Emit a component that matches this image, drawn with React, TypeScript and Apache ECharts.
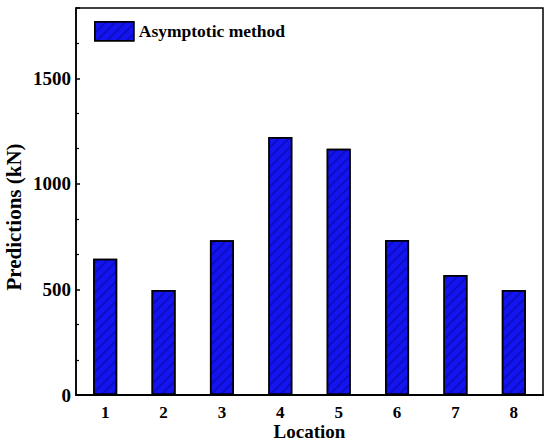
import React, { useEffect, useRef } from "react";
import * as echarts from "echarts";

const categories = ["1", "2", "3", "4", "5", "6", "7", "8"];
const predictions = [646, 498, 733, 1222, 1167, 734, 569, 497];
const seriesName = "Asymptotic method";
const yTicks = [0, 500, 1000, 1500];
const yName = "Predictions (kN)";

const FONT = "'Liberation Serif', 'Times New Roman', serif";

export default function App() {
  const ref = useRef<HTMLDivElement>(null);
  useEffect(() => {
    if (!ref.current) return;
    const chart = echarts.init(ref.current, null, { renderer: "svg" });
    chart.setOption({
      animation: false,
      backgroundColor: "#fff",
      grid: {
        left: 76,
        right: 7,
        top: 8,
        bottom: 51,
        outerBoundsMode: "none",
        containLabel: false,
        show: true,
        borderColor: "#000",
        borderWidth: 1.5,
      },
      legend: {
        left: 94,
        top: 21,
        padding: 0,
        icon: "rect",
        itemWidth: 39,
        itemHeight: 19,
        itemGap: 6,
        data: [seriesName],
        itemStyle: { borderColor: "#000", borderWidth: 1.5 },
        textStyle: { fontFamily: FONT, fontWeight: "bold", fontSize: 17.5, color: "#000" },
      },
      graphic: [
        {
          type: "text",
          x: 14,
          y: 217,
          rotation: Math.PI / 2,
          style: {
            text: yName,
            fontFamily: FONT,
            fontWeight: "bold",
            fontSize: 21,
            fill: "#000",
            align: "center",
            verticalAlign: "middle",
          },
        },
      ],
      xAxis: {
        type: "category",
        data: categories,
        name: "Location",
        nameLocation: "middle",
        nameGap: 27,
        nameMoveOverlap: false,
        nameTextStyle: { fontFamily: FONT, fontWeight: "bold", fontSize: 19, lineHeight: 18, color: "#000" },
        axisLine: { lineStyle: { color: "#000", width: 2 } },
        axisTick: { show: false },
        axisLabel: { fontFamily: FONT, fontWeight: "bold", fontSize: 17, lineHeight: 17, color: "#000", margin: 9 },
      },
      yAxis: {
        type: "value",
        min: yTicks[0],
        max: 1833.33,
        interval: yTicks[1] - yTicks[0],
        axisLine: { show: true, lineStyle: { color: "#000", width: 1.5 } },
        axisTick: { show: true, inside: true, length: 4, lineStyle: { color: "#000", width: 1.5 } },
        minorTick: { show: true, splitNumber: 3, length: 3, lineStyle: { color: "#000", width: 1.2 } },
        splitLine: { show: false },
        axisLabel: {
          fontFamily: FONT,
          fontWeight: "bold",
          fontSize: 19,
          color: "#000",
          margin: 5,
          showMaxLabel: false,
          formatter: (v: number) => (yTicks.includes(v) ? String(v) : ""),
        },
      },
      series: [
        {
          name: seriesName,
          type: "bar",
          data: predictions,
          barWidth: 24,
          itemStyle: {
            color: "#1414f0",
            borderColor: "#000",
            borderWidth: 1.5,
            decal: {
              symbol: "rect",
              symbolSize: 1,
              dashArrayX: [1, 0],
              dashArrayY: [1.2, 5],
              rotation: -Math.PI / 4,
              color: "rgba(0,0,110,0.35)",
            },
          },
        },
      ],
    });
    return () => chart.dispose();
  }, []);
  return <div ref={ref} style={{ width: 550, height: 446, position: "absolute", left: 0, top: 0 }} />;
}
